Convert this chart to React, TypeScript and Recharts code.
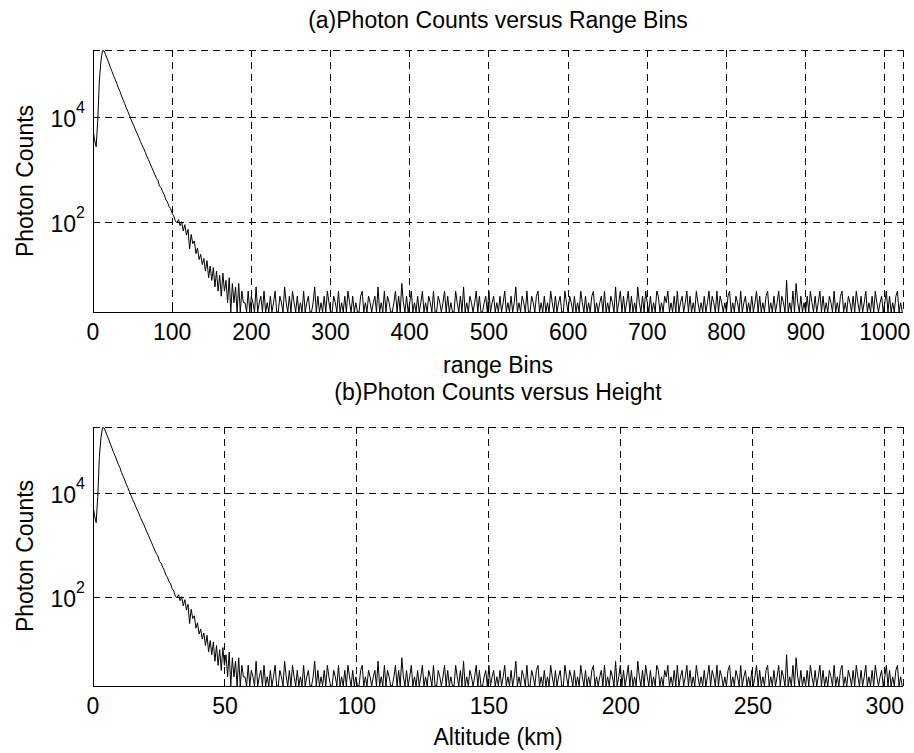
import React from 'react';
import { LineChart, Line, XAxis, YAxis, CartesianGrid } from 'recharts';

// ---------- data (one value every 2 range bins, bin 0 .. 1022) ----------
const BIN_STEP = 2;
const KM_PER_BIN = 0.3;

const startCounts = [5900, 3800, 2800, 9000, 50000, 120000, 190000];

const decayCounts = [
  186000, 158000, 132000, 110000, 91000, 76000, 63000, 54000, 45000, 37000,
  32000, 26000, 22000, 18600, 15500, 13200, 11000, 9300, 7900, 6800,
  5700, 4900, 4200, 3500, 3000, 2600, 2200, 1850, 1600, 1350,
  1150, 980, 830, 710, 640, 500, 470, 390, 340, 275,
  250, 205, 185, 150, 135, 108, 100,
];

const tailCounts = [
  115, 88, 105, 70, 92, 58, 75, 32, 60, 40, 45, 26, 33, 20, 25, 16, 21, 12, 19, 9,
  15, 8, 14, 6, 12, 5, 10, 4, 11, 5, 8, 3, 9, 2, 7, 3, 6, 2, 7, 2, 5, 3,
];

const noiseCounts = [
  3, 2, 5, 2, 4, 3, 2, 6, 2, 3, 4, 2, 5, 2, 3, 2,
  4, 2, 3, 5, 2, 2, 4, 3, 2, 6, 3, 2, 4, 2, 5, 3,
  2, 4, 2, 3, 2, 5, 2, 3, 4, 2, 2, 3, 6, 2, 4, 2,
  3, 2, 4, 2, 5, 3, 2, 2, 4, 3, 2, 5, 2, 3, 2, 4,
  2, 5, 3, 2, 4, 2, 3, 2, 2, 4, 5, 2, 3, 2, 4, 3,
  2, 3, 4, 2, 6, 2, 3, 2, 5, 2, 4, 3, 2, 2, 3, 5,
  2, 4, 2, 7, 3, 2, 4, 2, 3, 5, 2, 3, 2, 4, 2, 3,
  5, 2, 3, 2, 4, 3, 2, 5, 2, 2, 4, 3, 2, 3, 5, 2,
  4, 2, 3, 2, 2, 5, 3, 2, 4, 2, 6, 2, 3, 2, 4, 3,
  2, 3, 5, 2, 4, 2, 2, 3, 4, 2, 5, 2, 3, 4, 2, 3,
  2, 4, 2, 3, 5, 2, 3, 2, 4, 2, 3, 6, 2, 3, 2, 4,
  3, 2, 5, 2, 2, 4, 3, 2, 4, 5, 2, 3, 2, 4, 2, 3,
  2, 5, 3, 2, 4, 2, 3, 4, 2, 2, 5, 3, 2, 4, 3, 2,
  4, 2, 3, 2, 5, 3, 2, 4, 2, 3, 2, 4, 5, 2, 3, 2,
  3, 4, 2, 5, 2, 3, 2, 4, 3, 2, 6, 2, 3, 5, 2, 4,
  2, 3, 5, 2, 4, 2, 3, 2, 6, 3, 2, 4, 2, 5, 3, 2,
  4, 2, 3, 2, 5, 4, 2, 3, 2, 4, 3, 5, 2, 3, 2, 4,
  2, 5, 2, 3, 4, 2, 3, 5, 2, 4, 2, 3, 2, 5, 3, 2,
  3, 2, 4, 2, 3, 5, 2, 4, 3, 2, 5, 2, 4, 3, 2, 3,
  2, 4, 5, 2, 3, 2, 4, 3, 2, 5, 2, 3, 4, 2, 3, 2,
  4, 2, 3, 5, 2, 4, 2, 3, 2, 4, 5, 2, 3, 2, 4, 2,
  3, 5, 2, 4, 3, 2, 8, 2, 3, 2, 5, 2, 7, 3, 2, 4,
  2, 3, 2, 4, 2, 5, 3, 2, 4, 2, 3, 5, 2, 4, 2, 3,
  2, 4, 3, 2, 5, 2, 3, 2, 4, 5, 2, 3, 2, 4, 3, 2,
  4, 2, 5, 3, 2, 4, 2, 3, 5, 2, 3, 2, 4, 2, 5, 3,
  2, 3, 4, 2, 3, 5, 2, 4, 2, 3, 2, 4, 5, 2, 3, 2,
];

const rangeTicks = [0, 100, 200, 300, 400, 500, 600, 700, 800, 900, 1000];
const altitudeTicks = [0, 50, 100, 150, 200, 250, 300];
const countTicks = [100, 10000];

const BIN_DOMAIN: [number, number] = [0, 1023];
const ALT_DOMAIN: [number, number] = [0, 306.9];
const COUNT_DOMAIN: [number, number] = [2, 195000];

const counts = [...startCounts, ...decayCounts, ...tailCounts, ...noiseCounts];
const data = counts.map((c, i) => ({
  bin: i * BIN_STEP,
  alt: i * BIN_STEP * KM_PER_BIN,
  count: c,
}));

// ---------- styling ----------
const FONT = '"Liberation Sans", Arial, Helvetica, sans-serif';
const FS = 23;
const TICK_LEN = 7;
const W = 914;
const PLOT_LEFT = 93;
const PLOT_RIGHT = 903;

const XTickBottom = (props: any) => {
  const { x, y, payload } = props;
  return (
    <g>
      <line x1={x} x2={x} y1={y} y2={y - TICK_LEN} stroke="#000" strokeWidth={1} shapeRendering="crispEdges" />
      <text x={x} y={y + 28} textAnchor="middle" fontSize={FS} fontFamily={FONT} fill="#000">
        {payload.value}
      </text>
    </g>
  );
};

const XTickTop = (props: any) => {
  const { x, y } = props;
  return <line x1={x} x2={x} y1={y} y2={y + TICK_LEN} stroke="#000" strokeWidth={1} shapeRendering="crispEdges" />;
};

const YTickLeft = (props: any) => {
  const { x, y, payload } = props;
  const exp = Math.round(Math.log10(payload.value));
  return (
    <g>
      <line x1={x} x2={x + TICK_LEN} y1={y} y2={y} stroke="#000" strokeWidth={1} shapeRendering="crispEdges" />
      <text x={x - 8} y={y} textAnchor="end" fontSize={FS} fontFamily={FONT} fill="#000">
        <tspan dy={9}>10</tspan>
        <tspan dy={-14} fontSize={16}>{exp}</tspan>
      </text>
    </g>
  );
};

const YTickRight = (props: any) => {
  const { x, y } = props;
  return <line x1={x} x2={x - TICK_LEN} y1={y} y2={y} stroke="#000" strokeWidth={1} shapeRendering="crispEdges" />;
};

type PanelProps = {
  xKey: string;
  xDomain: [number, number];
  xTicks: number[];
  height: number;
  top: number;
  bottom: number;
};

const Panel = ({ xKey, xDomain, xTicks, height, top, bottom }: PanelProps) => (
  <LineChart
    width={W}
    height={height}
    data={data}
    margin={{ top, right: W - PLOT_RIGHT, bottom, left: PLOT_LEFT - 60 }}
  >
    <CartesianGrid
      stroke="#000"
      strokeWidth={1}
      strokeDasharray="7 5"
      shapeRendering="crispEdges"
      fill="none"
    />
    <XAxis
      dataKey={xKey}
      type="number"
      domain={xDomain}
      allowDataOverflow
      ticks={xTicks}
      interval={0}
      height={30}
      tickSize={0}
      tickMargin={0}
      tickLine={false}
      axisLine={{ stroke: '#000', strokeWidth: 1, shapeRendering: 'crispEdges' }}
      tick={XTickBottom}
    />
    <XAxis
      xAxisId="top"
      orientation="top"
      dataKey={xKey}
      type="number"
      domain={xDomain}
      allowDataOverflow
      ticks={xTicks}
      interval={0}
      height={0}
      tickSize={0}
      tickMargin={0}
      tickLine={false}
      axisLine={{ stroke: '#000', strokeWidth: 1, shapeRendering: 'crispEdges' }}
      tick={XTickTop}
    />
    <YAxis
      type="number"
      scale="log"
      domain={COUNT_DOMAIN}
      allowDataOverflow
      ticks={countTicks}
      interval={0}
      width={60}
      tickSize={0}
      tickMargin={0}
      tickLine={false}
      axisLine={{ stroke: '#000', strokeWidth: 1, shapeRendering: 'crispEdges' }}
      tick={YTickLeft}
    />
    <YAxis
      yAxisId="right"
      orientation="right"
      type="number"
      scale="log"
      domain={COUNT_DOMAIN}
      allowDataOverflow
      ticks={countTicks}
      interval={0}
      width={0}
      tickSize={0}
      tickMargin={0}
      tickLine={false}
      axisLine={{ stroke: '#000', strokeWidth: 1, shapeRendering: 'crispEdges' }}
      tick={YTickRight}
    />
    <Line
      type="linear"
      dataKey="count"
      stroke="#000"
      strokeWidth={1}
      dot={false}
      activeDot={false}
      isAnimationActive={false}
    />
  </LineChart>
);

const textStyle = { fontFamily: FONT, fontSize: FS, fill: '#000' } as const;
const CX = (PLOT_LEFT + PLOT_RIGHT) / 2;

export default function App() {
  return (
    <div style={{ position: 'absolute', left: 0, top: 0, width: W, height: 753, background: '#fff' }}>
      <div style={{ position: 'absolute', left: 0, top: 0 }}>
        <Panel xKey="bin" xDomain={BIN_DOMAIN} xTicks={rangeTicks} height={376} top={50} bottom={34} />
      </div>
      <div style={{ position: 'absolute', left: 0, top: 376 }}>
        <Panel xKey="alt" xDomain={ALT_DOMAIN} xTicks={altitudeTicks} height={377} top={51} bottom={37} />
      </div>
      <svg
        width={W}
        height={753}
        style={{ position: 'absolute', left: 0, top: 0, pointerEvents: 'none' }}
      >
        <text x={CX} y={28} textAnchor="middle" {...textStyle}>(a)Photon Counts versus Range Bins</text>
        <text x={CX} y={373} textAnchor="middle" {...textStyle}>range Bins</text>
        <text transform="translate(33,181) rotate(-90)" textAnchor="middle" {...textStyle}>Photon Counts</text>
        <text x={CX} y={400} textAnchor="middle" {...textStyle}>(b)Photon Counts versus Height</text>
        <text x={CX} y={745} textAnchor="middle" {...textStyle}>Altitude (km)</text>
        <text transform="translate(33,556) rotate(-90)" textAnchor="middle" {...textStyle}>Photon Counts</text>
      </svg>
    </div>
  );
}
